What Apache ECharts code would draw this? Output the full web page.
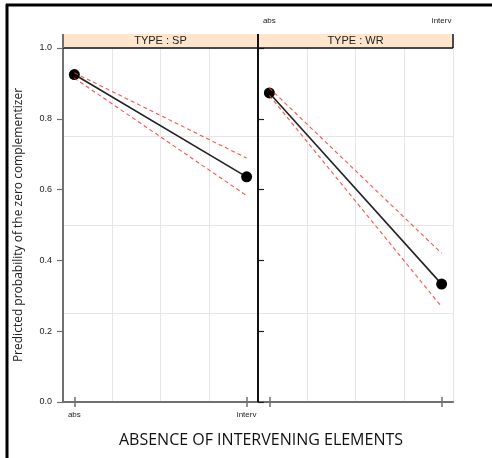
<!DOCTYPE html>
<html>
<head>
<meta charset="utf-8">
<script src="https://cdn.jsdelivr.net/npm/echarts@6/dist/echarts.min.js"></script>
<style>
html,body{margin:0;padding:0;background:#fff;}
#chart{width:492px;height:458px;}
</style>
</head>
<body>
<div id="chart"></div>
<script>
// ---- data ----
const categories = ['abs', 'interv'];
const panels = ['TYPE : SP', 'TYPE : WR'];
const fitSP = [0.925, 0.636];
const upperSP = [0.930, 0.689];
const lowerSP = [0.915, 0.583];
const fitWR = [0.873, 0.333];
const upperWR = [0.887, 0.420];
const lowerWR = [0.866, 0.269];
const yTickValues = [0, 0.2, 0.4, 0.6, 0.8, 1.0];
const xTitle = 'ABSENCE OF INTERVENING ELEMENTS';
const yTitle = 'Predicted probability of the zero complementizer';

// ---- layout ----
const L = 63, T = 48, W = 195, H = 354, STRIP = 14;
const pad = 0.066;
const xs = categories.map((c, k) => k + 1);
const toPts = arr => arr.map((v, k) => [xs[k], v]);
const panelData = [
  { fit: fitSP, up: upperSP, lo: lowerSP },
  { fit: fitWR, up: upperWR, lo: lowerWR }
];

const grids = [], xAxes = [], yAxes = [], series = [];
const axisGrey = '#707070';
panels.forEach((p, i) => {
  grids.push({ left: L + i * W, top: T, width: W, height: H, containLabel: false });
  // bottom axis
  xAxes.push({
    type: 'value', gridIndex: i, position: 'bottom', min: 1 - pad, max: 2 + pad,
    axisLine: { show: true, lineStyle: { color: axisGrey, width: 2 } },
    axisTick: { show: true, customValues: xs, length: 5, lineStyle: { color: axisGrey, width: 1.5 } },
    axisLabel: { show: i === 0, customValues: xs, formatter: v => categories[Math.round(v) - 1], fontSize: 8, color: '#222', margin: 9, fontFamily: 'Liberation Sans' },
    splitLine: { show: false }
  });
  // top axis (above strip)
  xAxes.push({
    type: 'value', gridIndex: i, position: 'top', offset: STRIP, min: 1 - pad, max: 2 + pad,
    axisLine: { show: true, lineStyle: { color: axisGrey, width: 1.5 } },
    axisTick: { show: true, customValues: xs, length: 5, lineStyle: { color: axisGrey, width: 1.5 } },
    axisLabel: { show: i === 1, customValues: xs, formatter: v => categories[Math.round(v) - 1], fontSize: 8, color: '#222', margin: 9, fontFamily: 'Liberation Sans' },
    splitLine: { show: false }
  });
  // vertical gridlines
  xAxes.push({
    type: 'value', gridIndex: i, position: 'bottom', min: 0, max: 4, interval: 1,
    axisLine: { show: false }, axisTick: { show: false }, axisLabel: { show: false },
    splitLine: { show: true, lineStyle: { color: '#e6e6e6', width: 1 } }
  });
  yAxes.push({
    type: 'value', gridIndex: i, position: i === 0 ? 'left' : 'right', min: 0, max: 1, interval: 0.2,
    axisLine: { show: true, lineStyle: { color: i === 0 ? axisGrey : '#111', width: i === 0 ? 2 : 1.5 } },
    axisTick: { show: true, length: 6, lineStyle: { color: i === 0 ? axisGrey : '#222', width: 1.2 } },
    axisLabel: { show: i === 0, formatter: v => v.toFixed(1), fontSize: 9, color: '#222', margin: 11, fontFamily: 'Liberation Sans' },
    splitLine: { show: false },
    name: i === 0 ? yTitle : '', nameLocation: 'middle', nameGap: 38, nameRotate: 90,
    nameTextStyle: { fontSize: 12, color: '#222', fontFamily: 'Open Sans' }
  });
  yAxes.push({
    type: 'value', gridIndex: i, position: 'left', min: 0, max: 1, interval: 0.25,
    axisLine: { show: false }, axisTick: { show: false }, axisLabel: { show: false },
    splitLine: { show: true, lineStyle: { color: '#e6e6e6', width: 1 } }
  });
  const xi = i * 3, yi = i * 2;
  const d = panelData[i];
  series.push({
    type: 'line', xAxisIndex: xi, yAxisIndex: yi, data: toPts(d.fit),
    symbol: 'circle', symbolSize: 11, itemStyle: { color: '#000' },
    lineStyle: { color: '#222', width: 1.6 }, z: 3, animation: false
  });
  [d.up, d.lo].forEach(arr => {
    series.push({
      type: 'line', xAxisIndex: xi, yAxisIndex: yi, data: toPts(arr),
      symbol: 'none', lineStyle: { color: '#ff3333', width: 1.1, type: [4, 3], opacity: 0.85 }, z: 4, animation: false
    });
  });
});

const graphic = [];
// strips
panels.forEach((p, i) => {
  graphic.push({ type: 'rect', shape: { x: L + i * W, y: T - STRIP, width: W, height: STRIP }, style: { fill: '#ffe5cc', stroke: null }, z: 1 });
  graphic.push({ type: 'text', x: L + i * W + W / 2, y: T - STRIP / 2, style: { text: p, textAlign: 'center', textVerticalAlign: 'middle', fontSize: 11, fill: '#222', fontFamily: 'Liberation Sans' }, z: 2 });
});
// strip bottom border
graphic.push({ type: 'line', shape: { x1: L, y1: T, x2: L + 2 * W, y2: T }, style: { stroke: '#111', lineWidth: 1.5 }, z: 5 });
// strip side borders
graphic.push({ type: 'line', shape: { x1: L, y1: T - STRIP, x2: L, y2: T }, style: { stroke: axisGrey, lineWidth: 2 }, z: 5 });
graphic.push({ type: 'line', shape: { x1: L + 2 * W, y1: T - STRIP, x2: L + 2 * W, y2: T }, style: { stroke: '#111', lineWidth: 1.5 }, z: 5 });
// divider between panels
graphic.push({ type: 'line', shape: { x1: L + W, y1: T - STRIP, x2: L + W, y2: T + H }, style: { stroke: '#111', lineWidth: 2 }, z: 5 });
// outer frame (left & top)
graphic.push({ type: 'line', shape: { x1: 7, y1: 4, x2: 7, y2: 458 }, style: { stroke: '#000', lineWidth: 3 }, z: 5 });
graphic.push({ type: 'line', shape: { x1: 6, y1: 5, x2: 492, y2: 5 }, style: { stroke: '#000', lineWidth: 3 }, z: 5 });
// x title
graphic.push({ type: 'text', x: 261, y: 440, style: { text: xTitle, textAlign: 'center', textVerticalAlign: 'middle', fontSize: 16, fill: '#111', fontFamily: 'Open Sans' }, z: 5 });

const chart = echarts.init(document.getElementById('chart'), null, { renderer: 'canvas' });
chart.setOption({
  animation: false,
  backgroundColor: '#fff',
  grid: grids,
  xAxis: xAxes,
  yAxis: yAxes,
  series: series,
  graphic: graphic
});
</script>
</body>
</html>
